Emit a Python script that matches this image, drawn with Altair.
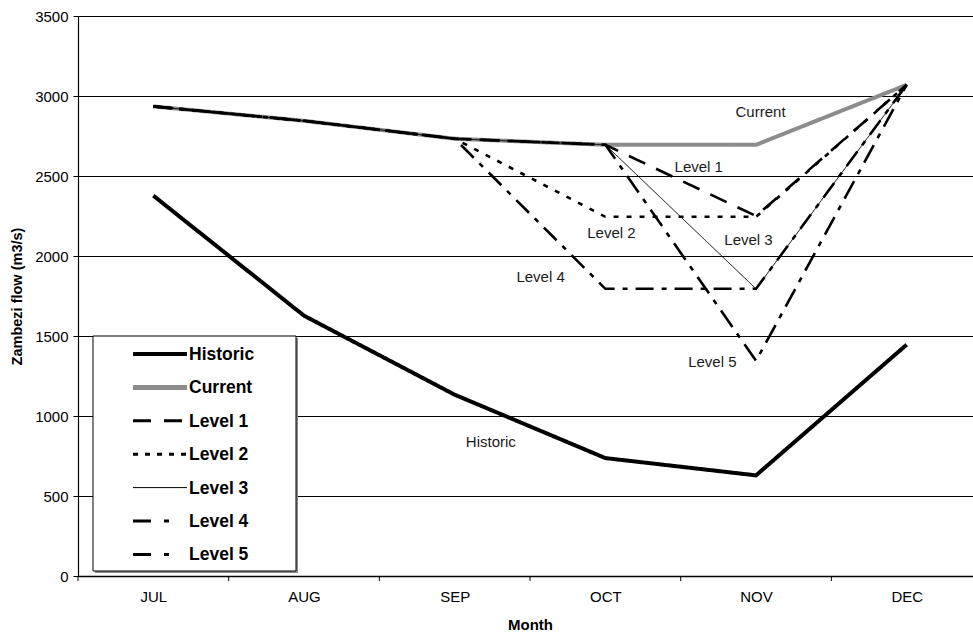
import altair as alt
import pandas as pd

# Monthly Zambezi flow (m3/s) for the historic record, the current regime
# and five abstraction levels.
months = ["JUL", "AUG", "SEP", "OCT", "NOV", "DEC"]
historic = [2377, 1627, 1133, 737, 629, 1446]
current = [2935, 2845, 2733, 2695, 2695, 3070]
level_1 = [2935, 2845, 2733, 2695, 2250, 3070]
level_2 = [2935, 2845, 2733, 2245, 2245, 3070]
level_3 = [2935, 2845, 2733, 2695, 1795, 3070]
level_4 = [2935, 2845, 2733, 1795, 1795, 3070]
level_5 = [2935, 2845, 2733, 2695, 1345, 3070]

series_names = ["Historic", "Current", "Level 1", "Level 2", "Level 3", "Level 4", "Level 5"]
series_values = [historic, current, level_1, level_2, level_3, level_4, level_5]

# In-plot labels: text, month position (fractional index) and flow
note_text = ["Current", "Level 1", "Level 2", "Level 3", "Level 4", "Level 5", "Historic"]
note_month = [4.03, 3.62, 3.04, 3.95, 2.57, 3.71, 2.24]
note_flow = [2898, 2554, 2146, 2102, 1871, 1339, 839]

y_ticks = [0, 500, 1000, 1500, 2000, 2500, 3000, 3500]

# Line styles per series
line_color = {"Historic": "#000000", "Current": "#8c8c8c"}
line_width = {"Historic": 4, "Current": 4, "Level 1": 2.6, "Level 2": 2.6,
              "Level 3": 1, "Level 4": 2.6, "Level 5": 2.6}
line_dash = {"Historic": [1, 0], "Current": [1, 0], "Level 1": [18, 12],
             "Level 2": [5, 8], "Level 3": [1, 0], "Level 4": [18, 8, 5, 8],
             "Level 5": [20, 8, 5, 8]}
legend_width = {"Historic": 4, "Current": 5, "Level 1": 3, "Level 2": 3,
                "Level 3": 1, "Level 4": 3, "Level 5": 3}
legend_dash = {"Historic": [1, 0], "Current": [1, 0], "Level 1": [18, 13],
               "Level 2": [5, 7], "Level 3": [1, 0], "Level 4": [18, 13, 5, 20],
               "Level 5": [18, 13, 5, 20]}

FONT = "Liberation Sans"

rows = []
for name, vals in zip(series_names, series_values):
    for i, v in enumerate(vals):
        rows.append({"series": name, "idx": i, "flow": v})
lines_df = pd.DataFrame(rows)

notes_df = pd.DataFrame({"label": note_text, "idx": note_month, "flow": note_flow})
bounds_df = pd.DataFrame({"idx": [i - 0.5 for i in range(len(months))]})

label_expr = "[" + ",".join(f"'{m}'" for m in months) + "][datum.value]"

x_enc = alt.X(
    "idx:Q",
    scale=alt.Scale(domain=[-0.5, 5.44], nice=False, zero=False),
    axis=alt.Axis(
        values=list(range(len(months))), labelExpr=label_expr,
        ticks=False, tickSize=0, grid=False,
        domainColor="#000000", domainWidth=1.6,
        labelPadding=13, labelFontSize=15, labelFont=FONT, labelColor="#000000",
        labelFlush=False, labelOverlap=False,
        title="Month", titleFont=FONT, titleFontSize=15, titleFontWeight="bold",
        titleColor="#000000", titleX=452, titleY=41, titleBaseline="top",
        titleAlign="center",
    ),
)
y_enc = alt.Y(
    "flow:Q",
    scale=alt.Scale(domain=[0, 3500], nice=False, zero=True),
    axis=alt.Axis(
        values=y_ticks, format="d", grid=True, gridColor="#000000", gridWidth=1,
        gridOpacity=1, domainColor="#000000", domainWidth=1.2, tickColor="#000000",
        tickSize=5, labelPadding=5, labelFontSize=15, labelFont=FONT,
        labelColor="#000000", labelFlush=False, labelOverlap=False,
        title="Zambezi flow (m3/s)", titleFont=FONT, titleFontSize=14.5,
        titleFontWeight="bold", titleColor="#000000", titleX=-61, titleY=280,
        titleBaseline="middle", titleAlign="center", titleAngle=270,
    ),
)

layers = []

# Category boundary ticks below the x axis
layers.append(
    alt.Chart(bounds_df).mark_rule(color="#000000", strokeWidth=1)
    .encode(x=x_enc, y=alt.value(560), y2=alt.value(565))
)

# Flow lines: current first, then the levels, historic on top
for name in ["Current", "Level 1", "Level 2", "Level 3", "Level 4", "Level 5", "Historic"]:
    layers.append(
        alt.Chart(lines_df[lines_df.series == name])
        .mark_line(color=line_color.get(name, "#000000"), strokeWidth=line_width[name],
                   strokeDash=line_dash[name], strokeJoin="miter", strokeCap="butt")
        .encode(x=x_enc, y=y_enc)
    )

# Labels placed beside the lines
layers.append(
    alt.Chart(notes_df).mark_text(font=FONT, fontSize=15, color="#1a1a1a",
                                  align="center", baseline="middle")
    .encode(x=x_enc, y=y_enc, text="label:N")
)

# Legend box with shadow
box_df = pd.DataFrame({"k": [0]})
layers.append(
    alt.Chart(box_df).mark_rect(fill="#8c8c8c")
    .encode(x=alt.value(17), x2=alt.value(220), y=alt.value(322), y2=alt.value(557))
)
layers.append(
    alt.Chart(box_df).mark_rect(fill="#ffffff", stroke="#000000", strokeWidth=1)
    .encode(x=alt.value(15), x2=alt.value(218), y=alt.value(320), y2=alt.value(555))
)

for i, name in enumerate(series_names):
    row_y = 338 + i * 33.4
    entry = pd.DataFrame({"series": [name]})
    layers.append(
        alt.Chart(entry).mark_rule(color=line_color.get(name, "#000000"),
                                   strokeWidth=legend_width[name],
                                   strokeDash=legend_dash[name], strokeCap="butt")
        .encode(x=alt.value(55), x2=alt.value(109), y=alt.value(row_y))
    )
    layers.append(
        alt.Chart(entry).mark_text(font=FONT, fontSize=17.5, fontWeight="bold",
                                   color="#000000", align="left", baseline="middle")
        .encode(x=alt.value(111), y=alt.value(row_y + 1), text="series:N")
    )

chart = (
    alt.layer(*layers)
    .properties(
        width=895, height=560,
        padding={"left": 78, "top": 16, "right": 0, "bottom": 57},
        autosize=alt.AutoSizeParams(type="none"),
        background="#ffffff",
    )
    .configure_view(stroke=None)
)

chart.save("out.html", embed_options={"renderer": "svg", "actions": False})
